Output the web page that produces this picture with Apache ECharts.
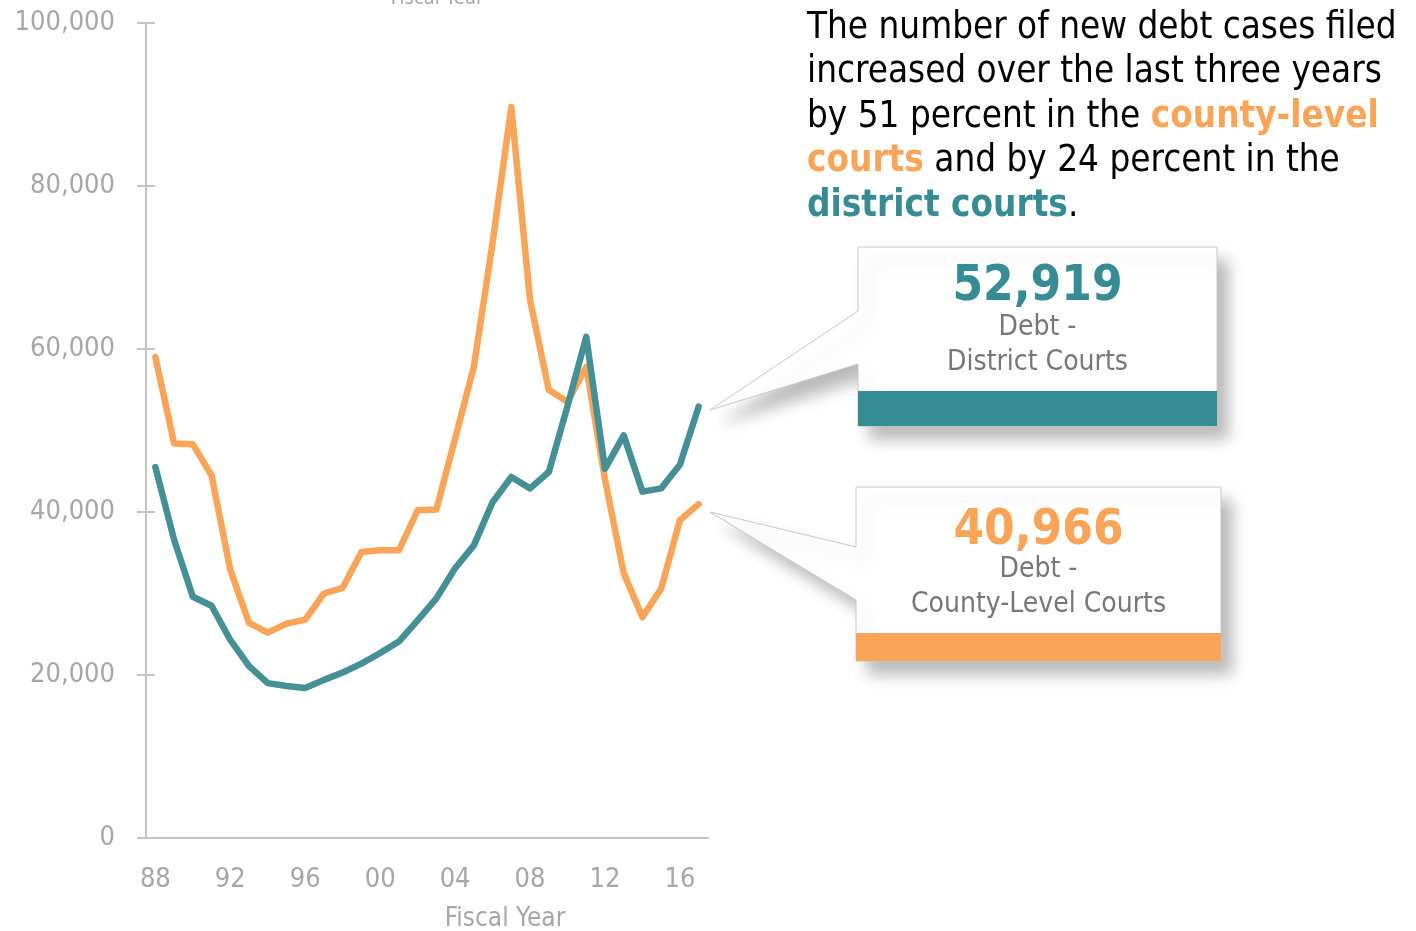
<!DOCTYPE html>
<html>
<head>
<meta charset="utf-8">
<script src="https://cdn.jsdelivr.net/npm/echarts@6/dist/echarts.min.js"></script>
<style>
  html, body { margin: 0; padding: 0; background: #fff; }
  #main { width: 1416px; height: 931px; }
</style>
</head>
<body>
<div id="main"></div>
<script>
// fiscal years 1988-2017, two-digit labels
const years = ['88', '89', '90', '91', '92', '93', '94', '95', '96', '97',
  '98', '99', '00', '01', '02', '03', '04', '05', '06', '07',
  '08', '09', '10', '11', '12', '13', '14', '15', '16', '17'];

// new debt cases filed, county-level courts
const countyLevel = [59000, 48400, 48300, 44500, 32900, 26400, 25200, 26300, 26800, 30000,
  30700, 35100, 35300, 35300, 40200, 40300, 49000, 57800, 73000, 89700,
  66000, 55000, 53500, 57800, 44000, 32500, 27100, 30600, 39000, 40966];

// new debt cases filed, district courts
const district = [45500, 36600, 29600, 28500, 24300, 21100, 19000, 18650, 18400, 19400,
  20300, 21400, 22700, 24100, 26700, 29400, 33100, 35900, 41200, 44300,
  42900, 44900, 53000, 61500, 45300, 49400, 42500, 42900, 45800, 52919];

const yTicks = { min: 0, max: 100000, interval: 20000 };

const TEAL = '#459096';
const TEAL_BAR = '#368c94';
const ORANGE = '#f9a457';
const GREY = '#a6a6a6';
const AXIS = '#c4c4c4';
const FONT = "'DejaVu Sans Condensed', 'DejaVu Sans', sans-serif";

const chart = echarts.init(document.getElementById('main'));

const shadow = {
  shadowBlur: 16,
  shadowOffsetX: 11,
  shadowOffsetY: 13,
  shadowColor: 'rgba(0,0,0,0.28)'
};

function callout(box, tip, color, value, line2, dy) {
  const [x0, y0, x1, y1, p0, p1, barTop] = box;
  const cx = (x0 + x1) / 2;
  return [
    {
      type: 'polygon',
      shape: { points: [[x0, y0], [x1, y0], [x1, y1], [x0, y1], [x0, p1], tip, [x0, p0]] },
      style: Object.assign({ fill: '#fff', stroke: '#c8c8c8', lineWidth: 1 }, shadow),
      z: 10
    },
    {
      type: 'rect',
      shape: { x: x0, y: barTop, width: x1 - x0, height: y1 - barTop },
      style: { fill: color },
      z: 11
    },
    {
      type: 'text', x: cx, y: y0 + dy[0], z: 12,
      style: { text: value, fill: color, font: 'bold 49px ' + FONT, align: 'center', verticalAlign: 'middle' }
    },
    {
      type: 'text', x: cx, y: y0 + dy[1], z: 12,
      style: { text: 'Debt -', fill: '#777', font: '28px ' + FONT, align: 'center', verticalAlign: 'middle' }
    },
    {
      type: 'text', x: cx, y: y0 + dy[2], z: 12,
      style: { text: line2, fill: '#777', font: '28px ' + FONT, align: 'center', verticalAlign: 'middle' }
    }
  ];
}

chart.setOption({
  animation: false,
  grid: { left: 146, right: 708, top: 23, bottom: 93, containLabel: false, outerBoundsMode: 'none' },
  xAxis: {
    type: 'category',
    data: years,
    boundaryGap: true,
    axisLine: { lineStyle: { color: AXIS, width: 2 } },
    axisTick: { interval: 3, length: 12, lineStyle: { color: AXIS, width: 2 } },
    axisLabel: { interval: 3, color: GREY, fontSize: 27, fontFamily: FONT, margin: 28 }
  },
  yAxis: [
    {
      type: 'value',
      min: yTicks.min, max: yTicks.max, interval: yTicks.interval,
      splitLine: { show: false },
      axisLine: { show: true, lineStyle: { color: AXIS, width: 2 } },
      axisTick: { show: true, length: 9, lineStyle: { color: AXIS, width: 2 } },
      axisLabel: {
        color: GREY, fontSize: 27, fontFamily: FONT, margin: 31,
        formatter: v => v.toLocaleString('en-US')
      }
    },
    {
      type: 'value',
      position: 'left',
      min: yTicks.min, max: yTicks.max, interval: yTicks.interval,
      splitLine: { show: false },
      axisLine: { show: false },
      axisTick: { show: true, inside: true, length: 9, lineStyle: { color: AXIS, width: 2 } },
      axisLabel: { show: false }
    }
  ],
  series: [
    {
      name: 'County-Level Courts',
      type: 'line',
      data: countyLevel,
      symbol: 'none',
      lineStyle: { color: ORANGE, width: 6.5, cap: 'round', join: 'round' }
    },
    {
      name: 'District Courts',
      type: 'line',
      data: district,
      symbol: 'none',
      lineStyle: { color: TEAL, width: 6.5, cap: 'round', join: 'round' }
    }
  ],
  graphic: [
    {
      type: 'text', x: 437, y: 9,
      style: { text: 'Fiscal Year', fill: GREY, font: '20px ' + FONT, align: 'center', verticalAlign: 'bottom' }
    },
    {
      type: 'text', x: 505, y: 919,
      style: { text: 'Fiscal Year', fill: GREY, font: '26px ' + FONT, align: 'center', verticalAlign: 'middle' }
    },
    {
      type: 'text', x: 807, y: 6,
      style: {
        text: 'The number of new debt cases filed\nincreased over the last three years\nby 51 percent in the {o|county-level}\n{o|courts} and by 24 percent in the\n{t|district courts}.',
        fill: '#000',
        font: '36.5px ' + FONT,
        lineHeight: 44.5,
        rich: {
          o: { fill: ORANGE, font: 'bold 36.5px ' + FONT, lineHeight: 44.5 },
          t: { fill: TEAL_BAR, font: 'bold 36.5px ' + FONT, lineHeight: 44.5 }
        }
      }
    }
  ]
    .concat(callout([858, 247, 1217, 426, 311, 364, 391], [710, 410], TEAL_BAR, '52,919', 'District Courts', [40, 81, 116]))
    .concat(callout([856, 487, 1221, 661, 547, 600, 633], [710, 512], ORANGE, '40,966', 'County-Level Courts', [44, 83, 118]))
});
</script>
</body>
</html>
